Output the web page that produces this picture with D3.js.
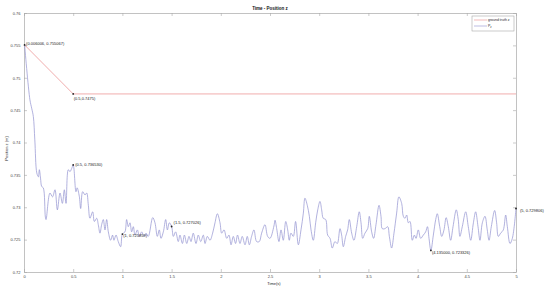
<!DOCTYPE html>
<html>
<head>
<meta charset="utf-8">
<script src="https://cdn.jsdelivr.net/npm/d3@7"></script>
<style>
  body { margin: 0; background: #fff; }
  svg text { font-family: "Liberation Sans", Arial, sans-serif; fill: #262626; }
</style>
</head>
<body>
<div id="graf"></div>
<script>
// ground truth z (red) - od startu po ustálení
var gtTime = [0.006006, 0.5, 5];
var gtZ = [0.755067, 0.7475, 0.7475];

// P_z (modrá), [čas, poloha]
var pzData = [
  [0.006,0.7551],[0.06,0.7466],[0.078,0.7453],[0.095,0.744],[0.11,0.7404],[0.13,0.7353],[0.146,0.7347],
  [0.156,0.7358],[0.168,0.7345],[0.18,0.7332],[0.196,0.733],[0.217,0.7285],[0.224,0.7281],[0.264,0.7322],
  [0.29,0.7316],[0.315,0.7327],[0.339,0.7296],[0.366,0.7322],[0.39,0.7306],[0.41,0.7327],[0.427,0.7306],
  [0.45,0.7358],[0.467,0.7355],[0.485,0.736],[0.5,0.73653],[0.528,0.7324],[0.54,0.733],[0.562,0.7317],
  [0.576,0.7298],[0.596,0.7324],[0.62,0.7319],[0.637,0.7322],[0.654,0.7303],[0.67,0.7283],[0.698,0.7293],
  [0.715,0.7278],[0.739,0.7283],[0.755,0.7273],[0.772,0.726],[0.789,0.7273],[0.806,0.7281],[0.823,0.7265],
  [0.84,0.7281],[0.857,0.7262],[0.88,0.7249],[0.9,0.7257],[0.914,0.7249],[0.935,0.7257],[0.958,0.7247],
  [0.982,0.7239],[1.0,0.725859],[1.026,0.7262],[1.043,0.7281],[1.06,0.727],[1.077,0.7276],[1.094,0.7262],
  [1.111,0.727],[1.128,0.7257],[1.152,0.7265],[1.172,0.7255],[1.196,0.7262],[1.22,0.7255],[1.24,0.726],
  [1.263,0.7255],[1.308,0.7284],[1.331,0.7276],[1.355,0.7255],[1.375,0.7265],[1.392,0.7252],[1.416,0.7262],
  [1.44,0.7281],[1.457,0.7265],[1.477,0.7276],[1.5,0.727026],[1.518,0.7255],[1.541,0.7262],[1.568,0.7247],
  [1.585,0.7257],[1.61,0.7244],[1.63,0.7257],[1.654,0.7244],[1.677,0.7255],[1.697,0.7247],[1.72,0.726],
  [1.748,0.7244],[1.771,0.7257],[1.796,0.7247],[1.822,0.7257],[1.84,0.7244],[1.863,0.7255],[1.89,0.7249],
  [1.917,0.726],[1.941,0.7276],[1.965,0.729],[1.992,0.7276],[2.009,0.726],[2.033,0.7265],[2.06,0.7252],
  [2.083,0.7257],[2.104,0.7242],[2.127,0.7255],[2.15,0.7244],[2.17,0.7257],[2.195,0.7244],[2.218,0.7255],
  [2.246,0.7242],[2.269,0.7255],[2.29,0.7242],[2.313,0.7255],[2.337,0.7265],[2.364,0.7247],[2.391,0.7247],
  [2.415,0.726],[2.449,0.7273],[2.476,0.7255],[2.5,0.7252],[2.54,0.7271],[2.551,0.728],[2.568,0.7267],
  [2.591,0.7247],[2.612,0.7265],[2.635,0.7249],[2.66,0.7278],[2.68,0.7265],[2.696,0.7249],[2.713,0.726],
  [2.737,0.7255],[2.76,0.7278],[2.788,0.7242],[2.815,0.7265],[2.839,0.7291],[2.855,0.7314],[2.879,0.7303],
  [2.9,0.7286],[2.917,0.7265],[2.94,0.7249],[2.964,0.7276],[2.985,0.7296],[3.008,0.7309],[3.025,0.7296],
  [3.041,0.7283],[3.066,0.7281],[3.086,0.7257],[3.11,0.7252],[3.133,0.7237],[3.16,0.7247],[3.184,0.7244],
  [3.211,0.7267],[3.228,0.7257],[3.245,0.7239],[3.269,0.7255],[3.289,0.7265],[3.306,0.7281],[3.33,0.726],
  [3.353,0.7249],[3.381,0.727],[3.407,0.7293],[3.425,0.7276],[3.442,0.7252],[3.465,0.726],[3.493,0.7267],
  [3.509,0.7286],[3.533,0.7262],[3.553,0.7252],[3.577,0.7273],[3.608,0.7303],[3.628,0.7286],[3.641,0.7267],
  [3.669,0.7267],[3.696,0.727],[3.713,0.7255],[3.736,0.7237],[3.76,0.726],[3.787,0.7291],[3.81,0.7316],
  [3.838,0.7306],[3.855,0.7286],[3.872,0.7283],[3.889,0.7288],[3.906,0.7276],[3.923,0.7278],[3.946,0.7249],
  [3.967,0.7257],[3.984,0.7252],[4.007,0.7265],[4.031,0.7252],[4.058,0.7257],[4.082,0.7262],[4.1,0.727],
  [4.116,0.7252],[4.135,0.723326],[4.16,0.7257],[4.184,0.7281],[4.2,0.729],[4.225,0.727],[4.245,0.7255],
  [4.268,0.7265],[4.29,0.7284],[4.312,0.727],[4.336,0.7249],[4.36,0.727],[4.393,0.7296],[4.413,0.7281],
  [4.43,0.7255],[4.454,0.727],[4.489,0.7293],[4.515,0.727],[4.54,0.7249],[4.567,0.7276],[4.59,0.7293],
  [4.614,0.727],[4.634,0.7249],[4.658,0.7276],[4.685,0.7286],[4.708,0.7265],[4.726,0.7249],[4.749,0.727],
  [4.783,0.7295],[4.803,0.7276],[4.82,0.7255],[4.844,0.726],[4.871,0.7265],[4.895,0.7288],[4.912,0.727],
  [4.939,0.7244],[4.963,0.7252],[5.0,0.729806]
];

// popisky bodů (datatips)
var tipT = [0.006006, 0.5, 0.5, 1, 1.5, 4.135, 5];
var tipZ = [0.755067, 0.7475, 0.73653, 0.725859, 0.727026, 0.723326, 0.729806];
var tipText = ["(0.006006, 0.755067)", "(0.5,0.7475)", "(0.5, 0.736530)", "(1, 0.725859)",
               "(1.5, 0.727026)", "(4.135000, 0.723326)", "(5, 0.729806)"];
// posun textu vůči bodu [dx, dy] v px
var tipOffset = [[1.5, -1], [0.5, 4.5], [2, 0], [0.8, 2], [2, -3.5], [1, 2.5], [4, 2]];

// osy
var xTicks = [0, 0.5, 1, 1.5, 2, 2.5, 3, 3.5, 4, 4.5, 5];
var xTickLabels = ["0", "0.5", "1", "1.5", "2", "2.5", "3", "3.5", "4", "4.5", "5"];
var yTickLabels = ["0.72", "0.725", "0.73", "0.735", "0.74", "0.745", "0.75", "0.755", "0.76"];
var yTicks = yTickLabels.map(Number);

var seriesNames = ["ground truth z", "P"];

var width = 550, height = 291;
var margin = {top: 13, right: 34, bottom: 19, left: 24};
var w = width - margin.left - margin.right;
var h = height - margin.top - margin.bottom;

var svg = d3.select("#graf").append("svg")
    .attr("width", width)
    .attr("height", height);

var g = svg.append("g")
    .attr("transform", "translate(" + margin.left + "," + margin.top + ")");

var x = d3.scaleLinear().domain([0, 5]).range([0, w]);
var y = d3.scaleLinear().domain([0.72, 0.76]).range([h, 0]);

// osy - tiky dovnitř jako v MATLABu
function styleAxis(sel) {
    sel.selectAll("path").attr("stroke", "#a8a8a8").attr("stroke-width", 0.7);
    sel.selectAll("line").attr("stroke", "#a8a8a8").attr("stroke-width", 0.6);
    sel.selectAll("text").attr("font-size", "4px").style("fill", "#444");
}

g.append("g")
    .attr("transform", "translate(0," + h + ")")
    .call(d3.axisBottom(x).tickValues(xTicks).tickFormat(function (d, i) { return xTickLabels[i]; })
        .tickSizeInner(-3).tickSizeOuter(0).tickPadding(3))
    .call(styleAxis);

g.append("g")
    .call(d3.axisTop(x).tickValues(xTicks).tickFormat("").tickSizeInner(-3).tickSizeOuter(0))
    .call(styleAxis);

g.append("g")
    .call(d3.axisLeft(y).tickValues(yTicks).tickFormat(function (d, i) { return yTickLabels[i]; })
        .tickSizeInner(-3).tickSizeOuter(0).tickPadding(3.5))
    .call(styleAxis);

g.append("g")
    .attr("transform", "translate(" + w + ",0)")
    .call(d3.axisRight(y).tickValues(yTicks).tickFormat("").tickSizeInner(-3).tickSizeOuter(0))
    .call(styleAxis);

// čáry
var gtLine = d3.line()
    .x(function (d, i) { return x(gtTime[i]); })
    .y(function (d) { return y(d); });

g.append("path")
    .datum(gtZ)
    .attr("d", gtLine)
    .attr("fill", "none")
    .attr("stroke", "#ea8a8a")
    .attr("stroke-width", 0.7);

var pzLine = d3.line()
    .x(function (d) { return x(d[0]); })
    .y(function (d) { return y(d[1]); })
    .curve(d3.curveCatmullRom.alpha(0.5));

g.append("path")
    .datum(pzData)
    .attr("d", pzLine)
    .attr("fill", "none")
    .attr("stroke", "#9090d0")
    .attr("stroke-width", 0.7);

// datatips
tipT.forEach(function (t, i) {
    g.append("circle")
        .attr("cx", x(t))
        .attr("cy", y(tipZ[i]))
        .attr("r", 0.9)
        .attr("fill", "#222");
    g.append("text")
        .attr("x", x(t) + tipOffset[i][0])
        .attr("y", y(tipZ[i]) + tipOffset[i][1])
        .attr("dy", "0.35em")
        .attr("font-size", "4px")
        .style("fill", "#222")
        .text(tipText[i]);
});

// nadpis a popisky os
svg.append("text")
    .attr("x", margin.left + w / 2)
    .attr("y", 10)
    .attr("text-anchor", "middle")
    .attr("font-size", "4.5px")
    .attr("font-weight", "bold")
    .style("fill", "#111")
    .text("Time - Position z");

svg.append("text")
    .attr("x", margin.left + w / 2 + 4)
    .attr("y", 285)
    .attr("text-anchor", "middle")
    .attr("font-size", "4px")
    .text("Time(s)");

svg.append("text")
    .attr("transform", "translate(8," + (margin.top + h / 2 + 6) + ") rotate(-90)")
    .attr("text-anchor", "middle")
    .attr("font-size", "4px")
    .text("Position  z (m)");

// legenda
var leg = svg.append("g").attr("transform", "translate(472,16)");
leg.append("rect")
    .attr("width", 42).attr("height", 15)
    .attr("fill", "#fff").attr("stroke", "#a8a8a8").attr("stroke-width", 0.6);

var legColors = ["#ea8a8a", "#9090d0"];
seriesNames.forEach(function (name, i) {
    var ly = 4 + i * 6;
    leg.append("line")
        .attr("x1", 2).attr("x2", 15).attr("y1", ly).attr("y2", ly)
        .attr("stroke", legColors[i]).attr("stroke-width", 0.6);
    var t = leg.append("text")
        .attr("x", 16).attr("y", ly).attr("dy", "0.35em")
        .attr("font-size", "3.5px")
        .text(name);
    if (i === 1) {
        t.append("tspan").attr("dy", "0.35em").attr("font-size", "2.6px").text("z");
    }
});
</script>
</body>
</html>
